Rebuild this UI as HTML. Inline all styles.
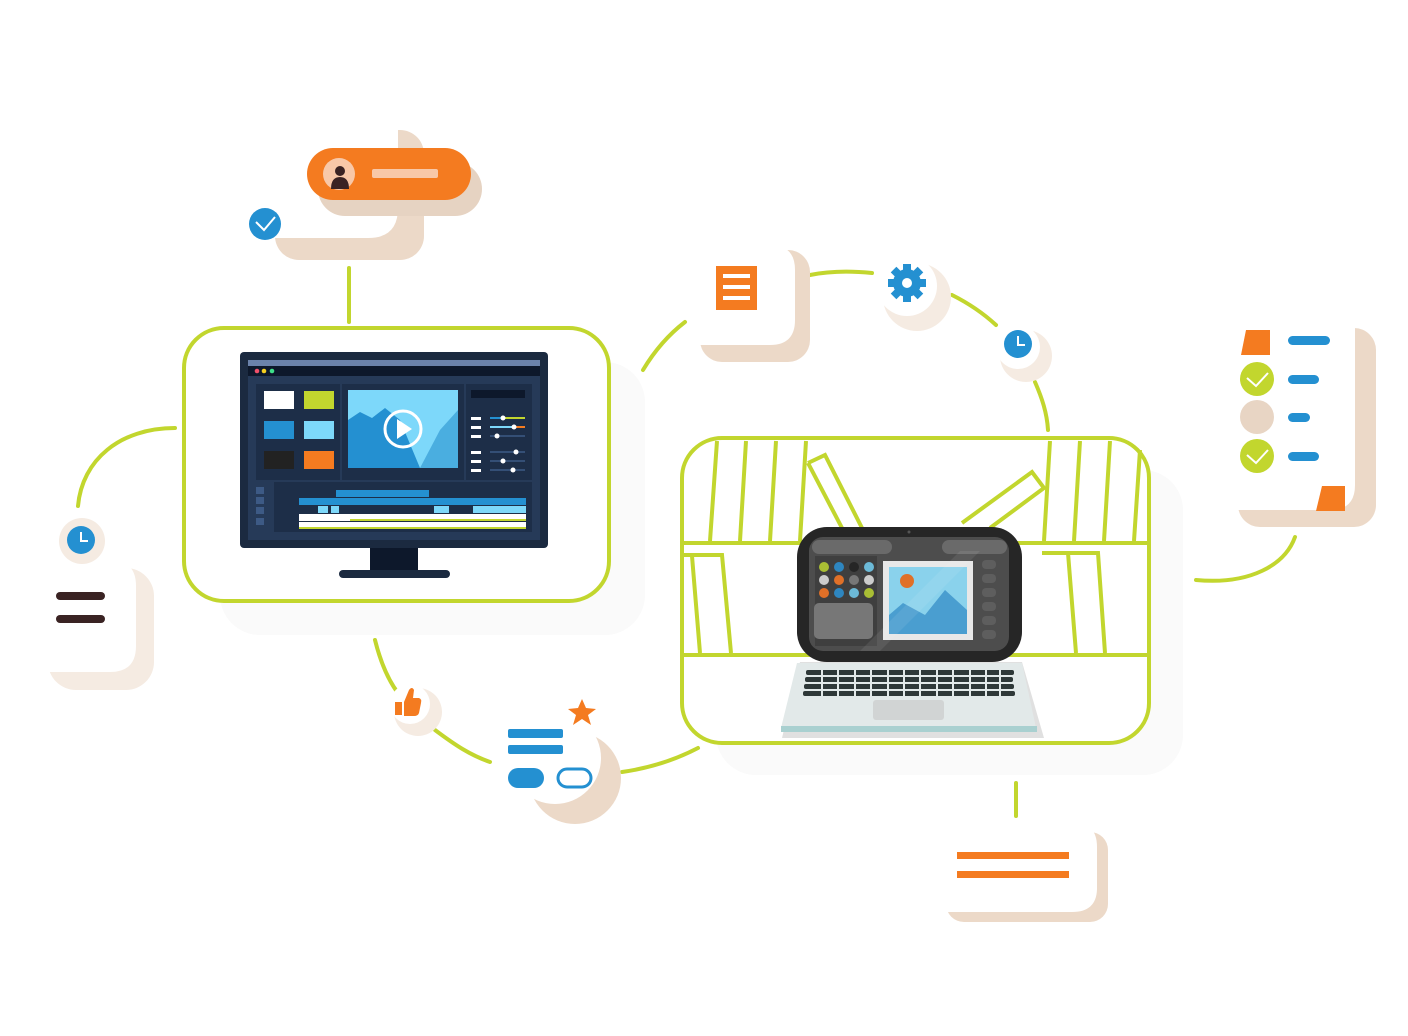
<!DOCTYPE html>
<html><head><meta charset="utf-8"><style>html,body{margin:0;padding:0;background:#fff}svg{display:block}</style></head>
<body>
<svg width="1408" height="1036" viewBox="0 0 1408 1036" xmlns="http://www.w3.org/2000/svg">
<g fill="none" stroke="#c2d62e" stroke-width="4" stroke-linecap="round">
<path d="M349 268 V322"/>
<path d="M78 506 C82 460 120 428 175 428"/>
<path d="M375 640 C385 680 400 700 420 715"/>
<path d="M435 730 C455 745 470 755 490 762"/>
<path d="M622 772 C650 768 675 760 698 748"/>
<path d="M643 370 C655 350 668 335 685 322"/>
<path d="M810 275 C830 271 852 271 872 273"/>
<path d="M952 295 C968 303 983 313 996 325"/>
<path d="M1035 382 C1042 398 1047 413 1048 430"/>
<path d="M1196 580 C1250 585 1285 565 1295 537"/>
<path d="M1016 783 V816"/>
</g>
<!-- shadows -->
<rect x="220" y="362" width="425" height="273" rx="40" fill="#fafafa"/>
<rect x="716" y="470" width="467" height="305" rx="40" fill="#fafafa"/>
<!-- monitor frame -->
<rect x="184" y="328" width="425" height="273" rx="40" fill="#fff" stroke="#c2d62e" stroke-width="4"/>
<rect x="240" y="352" width="308" height="196" rx="4" fill="#1b2a40"/>
<rect x="248" y="360" width="292" height="6" fill="#6a82aa"/>
<rect x="248" y="366" width="292" height="10" fill="#0d182b"/>
<circle cx="257" cy="371" r="2.3" fill="#f0506a"/><circle cx="264" cy="371" r="2.3" fill="#f5d020"/><circle cx="272" cy="371" r="2.3" fill="#3ee08a"/>
<rect x="248" y="376" width="292" height="164" fill="#263a58"/>
<rect x="256" y="384" width="84" height="96" fill="#1d2e48"/>
<rect x="264" y="391" width="30" height="18" fill="#fff"/><rect x="304" y="391" width="30" height="18" fill="#c2d62e"/>
<rect x="264" y="421" width="30" height="18" fill="#2490d1"/><rect x="304" y="421" width="30" height="18" fill="#7dd8fa"/>
<rect x="264" y="451" width="30" height="18" fill="#222"/><rect x="304" y="451" width="30" height="18" fill="#f47b20"/>
<rect x="342" y="384" width="122" height="96" fill="#1d2e48"/>
<rect x="348" y="390" width="110" height="78" fill="#7dd8fa"/>
<path d="M348 420 L360 412 L372 418 L385 408 L400 420 L420 468 L348 468Z" fill="#2490d1"/>
<path d="M420 468 L440 430 L458 410 L458 468Z" fill="#4aaee0"/>
<circle cx="403" cy="429" r="18" fill="none" stroke="#fff" stroke-width="3"/>
<path d="M397 419 L412 429 L397 439Z" fill="#fff"/>
<rect x="466" y="384" width="66" height="96" fill="#1d2e48"/>
<rect x="471" y="390" width="54" height="8" fill="#0d182b"/>
<g fill="#fff"><rect x="471" y="417" width="10" height="3"/><rect x="471" y="426" width="10" height="3"/><rect x="471" y="435" width="10" height="3"/><rect x="471" y="451" width="10" height="3"/><rect x="471" y="460" width="10" height="3"/><rect x="471" y="469" width="10" height="3"/></g>
<g stroke="#3d5a85" stroke-width="1.5"><path d="M490 418H525M490 427H525M490 436H525M490 452H525M490 461H525M490 470H525"/></g>
<path d="M490 418H503" stroke="#2490d1" stroke-width="2"/><path d="M503 418H525" stroke="#c2d62e" stroke-width="2"/>
<path d="M490 427H514" stroke="#7dd8fa" stroke-width="2"/><path d="M514 427H525" stroke="#f47b20" stroke-width="2"/>
<g fill="#fff"><circle cx="503" cy="418" r="2.5"/><circle cx="514" cy="427" r="2.5"/><circle cx="497" cy="436" r="2.5"/><circle cx="516" cy="452" r="2.5"/><circle cx="503" cy="461" r="2.5"/><circle cx="513" cy="470" r="2.5"/></g>
<rect x="274" y="482" width="258" height="50" fill="#1d2e48"/>
<g fill="#3d5a85"><rect x="256" y="487" width="8" height="7"/><rect x="256" y="497" width="8" height="7"/><rect x="256" y="507" width="8" height="7"/><rect x="256" y="518" width="8" height="7"/></g>
<rect x="336" y="490" width="93" height="7" fill="#2490d1"/>
<rect x="299" y="498" width="227" height="7" fill="#2490d1"/>
<rect x="318" y="506" width="10" height="7" fill="#7dd8fa"/><rect x="331" y="506" width="8" height="7" fill="#7dd8fa"/><rect x="434" y="506" width="15" height="7" fill="#7dd8fa"/><rect x="473" y="506" width="53" height="7" fill="#7dd8fa"/>
<rect x="299" y="514" width="227" height="7" fill="#fff"/><rect x="350" y="519" width="176" height="2" fill="#c2d62e"/>
<rect x="299" y="522" width="227" height="7" fill="#fff"/><rect x="299" y="527" width="227" height="2" fill="#c2d62e"/>
<rect x="370" y="548" width="48" height="22" fill="#0d182b"/>
<rect x="339" y="570" width="111" height="8" rx="4" fill="#1b2a40"/>
<!-- laptop frame & shelves -->
<rect x="682" y="438" width="467" height="305" rx="40" fill="#fff" stroke="#c2d62e" stroke-width="4"/>
<g stroke="#c2d62e" stroke-width="4" fill="none">
<path d="M684 543H1147M684 655H1147"/>
<path d="M717 441L710 541M746 441L740 541M776 441L770 541M806 441L800 541"/>
<path d="M808 463L825 455L862 528"/><path d="M808 463L842 528"/>
<path d="M962 523L1032 472L1044 488L990 528"/>
<path d="M1050 441L1044 541M1080 441L1074 541M1110 441L1104 541M1140 450L1134 541"/>
<path d="M684 555H722L731 653M692 556L700 653"/>
<path d="M1042 553H1098L1105 653M1068 553L1076 653"/>
</g>
<!-- laptop -->
<path d="M800 662H1022L1044 738H782Z" fill="#e0e0e0"/>
<path d="M797 663H1022L1036 728H781Z" fill="#e2e9e9"/>
<rect x="781" y="726" width="256" height="6" fill="#a9d0d0"/>
<g fill="#2e3838">
<rect x="806" y="670" width="208" height="5" rx="2"/><rect x="805" y="677" width="208" height="5" rx="2"/><rect x="804" y="684" width="210" height="5" rx="2"/><rect x="803" y="691" width="212" height="5" rx="2"/>
</g>
<g stroke="#e2e9e9" stroke-width="2"><path d="M822 668V698M838 668V698M855 668V698M871 668V698M888 668V698M904 668V698M920 668V698M937 668V698M953 668V698M970 668V698M986 668V698M1000 668V698"/></g>
<rect x="873" y="700" width="71" height="20" rx="3" fill="#d1d4d4"/>
<rect x="797" y="527" width="225" height="135" rx="30" fill="#262626"/>
<rect x="809" y="537" width="200" height="114" rx="14" fill="#4d4d4d"/>
<rect x="812" y="540" width="80" height="14" rx="7" fill="#6a6a6a"/><rect x="942" y="540" width="65" height="14" rx="7" fill="#6a6a6a"/>
<rect x="815" y="556" width="62" height="90" fill="#3f3f3f"/>
<g>
<circle cx="824" cy="567" r="5" fill="#a9be34"/><circle cx="839" cy="567" r="5" fill="#2e86c0"/><circle cx="854" cy="567" r="5" fill="#262626"/><circle cx="869" cy="567" r="5" fill="#6cbad8"/>
<circle cx="824" cy="580" r="5" fill="#ccc"/><circle cx="839" cy="580" r="5" fill="#e07028"/><circle cx="854" cy="580" r="5" fill="#777"/><circle cx="869" cy="580" r="5" fill="#ccc"/>
<circle cx="824" cy="593" r="5" fill="#e07028"/><circle cx="839" cy="593" r="5" fill="#2e86c0"/><circle cx="854" cy="593" r="5" fill="#6cbad8"/><circle cx="869" cy="593" r="5" fill="#a9be34"/>
</g>
<rect x="814" y="603" width="59" height="36" rx="5" fill="#777"/>
<rect x="883" y="561" width="90" height="79" fill="#e8e8e8"/>
<rect x="889" y="567" width="78" height="67" fill="#8ad2ec"/>
<path d="M889 615L903 603L925 615L945 590L967 610V634H889Z" fill="#4a9ed0"/>
<circle cx="907" cy="581" r="7" fill="#e07028"/>
<g fill="#5e5e5e"><rect x="982" y="560" width="14" height="9" rx="4"/><rect x="982" y="574" width="14" height="9" rx="4"/><rect x="982" y="588" width="14" height="9" rx="4"/><rect x="982" y="602" width="14" height="9" rx="4"/><rect x="982" y="616" width="14" height="9" rx="4"/><rect x="982" y="630" width="14" height="9" rx="4"/></g>
<path d="M860 651L960 551H980L880 651Z" fill="#fff" opacity="0.08"/>
<circle cx="909" cy="532" r="1.5" fill="#555"/>
<!-- top orange pill -->
<rect x="275" y="130" width="149" height="130" rx="24" fill="#ecd9c8"/>
<path d="M240 110H398V208Q398 238 368 238H240Z" fill="#fff"/>
<rect x="318" y="162" width="164" height="54" rx="27" fill="#e6d3c2"/>
<rect x="307" y="148" width="164" height="52" rx="26" fill="#f47b20"/>
<circle cx="339" cy="174" r="16" fill="#f8c8a8"/>
<circle cx="340" cy="171" r="5" fill="#3a2323"/><path d="M331 189Q331 177 340 177Q349 177 349 189Z" fill="#3a2323"/>
<rect x="372" y="169" width="66" height="9" rx="2" fill="#f8c8a8"/>
<circle cx="265" cy="224" r="16" fill="#2490d1"/>
<path d="M256 222L264 230L275 217" fill="none" stroke="#fff" stroke-width="2"/>
<!-- left clock card -->
<rect x="48" y="568" width="106" height="122" rx="28" fill="#f5ebe2"/>
<path d="M40 560H110Q136 560 136 586V646Q136 672 110 672H40Z" fill="#fff"/>
<rect x="56" y="592" width="49" height="8" rx="4" fill="#3a2323"/>
<rect x="56" y="615" width="49" height="8" rx="4" fill="#3a2323"/>
<circle cx="82" cy="541" r="23" fill="#f5ebe2"/>
<circle cx="81" cy="540" r="14" fill="#2490d1"/>
<path d="M81 532V541H88" stroke="#fff" stroke-width="2" fill="none"/>
<!-- thumbs -->
<circle cx="418" cy="712" r="24" fill="#f5ebe2"/>
<circle cx="410" cy="704" r="20" fill="#fff"/>
<path d="M395 702H402V715H395Z M404 702L409 690Q412 686 414 690L413 698H419Q422 699 421 703L419 713Q418 716 414 716H404Z" fill="#f47b20"/>
<!-- star card -->
<circle cx="575" cy="778" r="46" fill="#ecd9c8"/>
<circle cx="555" cy="758" r="46" fill="#fff"/>
<rect x="508" y="729" width="55" height="9" rx="2" fill="#2490d1"/>
<rect x="508" y="745" width="55" height="9" rx="2" fill="#2490d1"/>
<rect x="508" y="768" width="36" height="20" rx="10" fill="#2490d1"/>
<rect x="558" y="769" width="33" height="18" rx="9" fill="#fff" stroke="#2490d1" stroke-width="3"/>
<path d="M582 699L586 708L596 709L588 715L591 725L582 719L573 725L576 715L568 709L578 708Z" fill="#f47b20"/>
<!-- doc card -->
<rect x="700" y="250" width="110" height="112" rx="22" fill="#ecd9c8"/>
<path d="M690 245H770Q795 245 795 270V320Q795 345 770 345H690Z" fill="#fff"/>
<rect x="716" y="266" width="41" height="44" fill="#f47b20"/>
<g fill="#fff"><rect x="723" y="274" width="27" height="4"/><rect x="723" y="285" width="27" height="4"/><rect x="723" y="296" width="27" height="4"/></g>
<!-- gear -->
<circle cx="917" cy="297" r="34" fill="#f5ebe2"/>
<circle cx="907" cy="286" r="30" fill="#fff"/>
<g fill="#2490d1" transform="translate(907,283)">
<circle r="14"/>
<rect x="-4" y="-19" width="8" height="38"/><rect x="-19" y="-4" width="38" height="8"/>
<rect x="-4" y="-19" width="8" height="38" transform="rotate(45)"/><rect x="-4" y="-19" width="8" height="38" transform="rotate(-45)"/>
<circle r="5" fill="#fff"/></g>
<!-- small clock -->
<circle cx="1026" cy="356" r="26" fill="#f5ebe2"/>
<circle cx="1018" cy="347" r="22" fill="#fff"/>
<circle cx="1018" cy="344" r="14" fill="#2490d1"/>
<path d="M1018 336V345H1025" stroke="#fff" stroke-width="2" fill="none"/>
<!-- checklist -->
<rect x="1238" y="328" width="138" height="199" rx="22" fill="#ecd9c8"/>
<path d="M1225 315H1355V485Q1355 510 1330 510H1225Z" fill="#fff"/>
<path d="M1246 330H1270V355H1241Z" fill="#f47b20"/>
<path d="M1322 486H1345V511H1316Z" fill="#f47b20"/>
<circle cx="1257" cy="379" r="17" fill="#c2d62e"/>
<circle cx="1257" cy="417" r="17" fill="#e8d5c4"/>
<circle cx="1257" cy="456" r="17" fill="#c2d62e"/>
<path d="M1247 378L1256 386L1268 373M1247 455L1256 463L1268 450" stroke="#fff" stroke-width="2" fill="none"/>
<g fill="#2490d1"><rect x="1288" y="336" width="42" height="9" rx="4.5"/><rect x="1288" y="375" width="31" height="9" rx="4.5"/><rect x="1288" y="413" width="22" height="9" rx="4.5"/><rect x="1288" y="452" width="31" height="9" rx="4.5"/></g>
<!-- bottom card -->
<rect x="946" y="832" width="162" height="90" rx="18" fill="#ecd9c8"/>
<path d="M938 822H1072Q1097 822 1097 847V888Q1097 912 1072 912H938Z" fill="#fff"/>
<rect x="957" y="852" width="112" height="7" fill="#f47b20"/>
<rect x="957" y="871" width="112" height="7" fill="#f47b20"/>
</svg>
</body></html>
